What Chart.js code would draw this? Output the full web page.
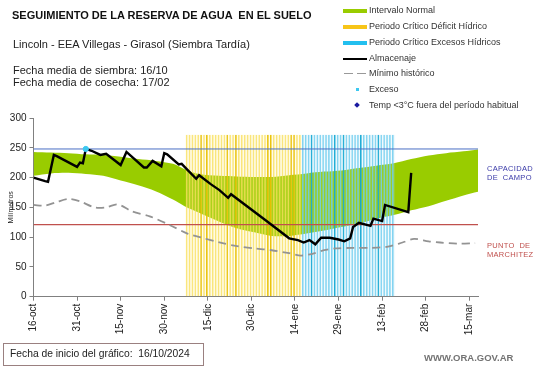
<!DOCTYPE html>
<html>
<head>
<meta charset="utf-8">
<script src="https://cdn.jsdelivr.net/npm/chart.js@4/dist/chart.umd.min.js"></script>
<style>
  html, body { margin: 0; padding: 0; background: #fff; }
  #wrap { position: relative; width: 541px; height: 368px; overflow: hidden; font-family: "Liberation Sans", Arial, sans-serif; color: #111; }
  #wrap canvas { position: absolute; left: 0; top: 0; }
  .t { position: absolute; white-space: pre; }
  .leg { position: absolute; left: 369px; font-size: 9px; line-height: 11px; color: #333; white-space: pre; }
  .sw { position: absolute; }
</style>
</head>
<body>
<div id="wrap">
  <canvas id="chartReserva" width="541" height="368"></canvas>

  <div class="t" style="left:12px; top:9px; font-size:11px; line-height:13px; font-weight:bold;">SEGUIMIENTO DE LA RESERVA DE AGUA  EN EL SUELO</div>
  <div class="t" style="left:13px; top:38px; font-size:11px; line-height:13px; color:#222;">Lincoln - EEA Villegas - Girasol (Siembra Tardía)</div>
  <div class="t" style="left:13px; top:65px; font-size:11px; line-height:11.5px; color:#222;">Fecha media de siembra: 16/10
Fecha media de cosecha: 17/02</div>

  <!-- leyenda -->
  <div class="sw" style="left:343px; top:8.5px; width:24px; height:4.5px; background:#99cc00;"></div>
  <div class="leg" style="top:5px;">Intervalo Normal</div>
  <div class="sw" style="left:343px; top:24.5px; width:24px; height:4.5px; background:#f7c518;"></div>
  <div class="leg" style="top:21px;">Periodo Crítico Déficit Hídrico</div>
  <div class="sw" style="left:343px; top:40.5px; width:24px; height:4.5px; background:#22bfef;"></div>
  <div class="leg" style="top:37px;">Periodo Crítico Excesos Hídricos</div>
  <div class="sw" style="left:343px; top:58px; width:24px; height:2px; background:#000;"></div>
  <div class="leg" style="top:53px;">Almacenaje</div>
  <div class="sw" style="left:344px; top:72.5px; width:9px; height:1.5px; background:#999;"></div>
  <div class="sw" style="left:357px; top:72.5px; width:9px; height:1.5px; background:#999;"></div>
  <div class="leg" style="top:68px;">Mínimo histórico</div>
  <div class="sw" style="left:355.5px; top:87.5px; width:3px; height:3px; background:#3cc8f0;"></div>
  <div class="leg" style="top:84px;">Exceso</div>
  <div class="sw" style="left:355px; top:103px; width:4px; height:4px; background:#1a1aa0; transform:rotate(45deg);"></div>
  <div class="leg" style="top:99.5px;">Temp &lt;3°C fuera del período habitual</div>

  <!-- rotulos a la derecha -->
  <div class="t" style="left:487px; top:165px; font-size:7.5px; line-height:8.8px; color:#3a3aa8; letter-spacing:0.3px;">CAPACIDAD
DE  CAMPO</div>
  <div class="t" style="left:487px; top:242px; font-size:7.5px; line-height:8.8px; color:#c0504d; letter-spacing:0.3px;">PUNTO  DE
MARCHITEZ</div>

  <div class="t" style="left:3px; top:343px; width:199px; height:21px; border:1px solid #9a8080;"></div>
  <div class="t" style="left:10px; top:347px; font-size:10.3px; line-height:13px; color:#222;">Fecha de inicio del gráfico:  16/10/2024</div>
  <div class="t" style="left:424px; top:352px; font-size:9.5px; line-height:12px; font-weight:bold; color:#737373;">WWW.ORA.GOV.AR</div>
</div>

<script>
// dias contados desde el 16-oct (dia 0)
const fechas = ['16-oct', '31-oct', '15-nov', '30-nov', '15-dic', '30-dic', '14-ene', '29-ene', '13-feb', '28-feb', '15-mar'];

// Intervalo normal (banda verde)
const diasBanda = [0, 6, 12, 18, 24, 30, 36, 42, 48, 52, 57, 64, 70, 76, 82, 88, 94, 100, 106, 112, 118, 124, 130, 136, 142, 148, 153];
const bandaSuperior = [243, 242, 241, 239, 238, 235, 231, 228, 223, 214, 206, 203, 202, 201, 201, 204, 207, 210, 212, 216, 220, 224, 231, 237, 241, 244, 247];
const bandaInferior = [203, 207, 208, 206, 203, 195, 187, 177, 163, 152, 141, 126, 115, 108, 102, 102, 106, 111, 117, 123, 131, 137, 145, 152, 161, 170, 176];

// Minimo historico (gris a trazos)
const diasMinimo = [0, 4, 8, 12, 16, 21, 25, 29, 34, 40, 47, 53, 58, 64, 70, 76, 82, 88, 92, 96, 100, 104, 110, 116, 122, 127, 131, 136, 140, 146, 152];
const minimoHistorico = [154, 153, 159, 164, 160, 150, 150, 155, 143, 135, 120, 106, 99, 91, 85, 81, 78, 73, 69, 72, 78, 81, 82, 82, 84, 91, 97, 93, 91, 89, 90];

// Almacenaje (linea negra)
const diasAlmacenaje = [0, 4, 5, 7, 8, 15, 16, 17, 18, 20, 23, 25, 30, 32, 38, 39, 41, 44, 45, 46, 50, 51, 53, 56, 57, 61, 64, 67, 68, 80, 88, 91, 93, 95, 97, 99, 102, 105, 107, 109, 110, 112, 116, 117, 120, 121, 129, 130];
const almacenaje = [200, 194, 193, 238, 236, 218, 225, 224, 248, 245, 238, 240, 221, 243, 217, 217, 228, 219, 241, 239, 222, 223, 213, 198, 204, 189, 179, 166, 172, 128, 98, 95, 91, 95, 88, 99, 99, 96, 93, 98, 117, 124, 119, 131, 127, 154, 142, 208];

// Exceso (punto celeste)
const diasExceso = [18];
const valoresExceso = [248];

// Periodos criticos (franjas)
const diasDeficit = [53, 54, 55, 56, 57, 58, 59, 60, 61, 62, 63, 64, 65, 66, 67, 68, 69, 70, 71, 72, 73, 74, 75, 76, 77, 78, 79, 80, 81, 82, 83, 84, 85, 86, 87, 88, 89, 90, 91, 92];
const diasExcesos = [93, 94, 95, 96, 97, 98, 99, 100, 101, 102, 103, 104, 105, 106, 107, 108, 109, 110, 111, 112, 113, 114, 115, 116, 117, 118, 119, 120, 121, 122, 123, 124];
const diasDeficitFuertes = [58, 60, 67, 70, 81, 82, 89, 90];
const diasExcesosFuertes = [96, 104, 107, 113, 119];
const alturaPeriodo = 272;

const capacidadCampo = 248;
const puntoMarchitez = 121;
const diaFinal = 153;

const pares = (xs, ys) => xs.map((x, i) => ({ x, y: ys[i] }));
const franja = (dias) => dias.map((x) => ({ x, y: alturaPeriodo }));

new Chart(document.getElementById('chartReserva'), {
  type: 'line',
  data: {
    datasets: [
      {
        label: 'Intervalo inferior',
        data: pares(diasBanda, bandaInferior),
        borderWidth: 0, pointRadius: 0, fill: false, tension: 0.3, order: 10,
      },
      {
        label: 'Intervalo Normal',
        data: pares(diasBanda, bandaSuperior),
        borderWidth: 0, pointRadius: 0, fill: '-1', backgroundColor: '#99cc00', tension: 0.3, order: 9,
      },
      {
        type: 'bar',
        label: 'Periodo Crítico Déficit Hídrico',
        data: franja(diasDeficit),
        grouped: false, barPercentage: 1, categoryPercentage: 1,
        backgroundColor: 'rgba(255, 240, 150, 0.18)',
        borderColor: (c) => diasDeficitFuertes.includes(c.raw && c.raw.x) ? 'rgba(232, 192, 0, 0.95)' : 'rgba(248, 222, 90, 0.8)',
        borderWidth: { left: 1, right: 0, top: 0, bottom: 0 },
        borderSkipped: false,
        order: 8,
      },
      {
        type: 'bar',
        label: 'Periodo Crítico Excesos Hídricos',
        data: franja(diasExcesos),
        grouped: false, barPercentage: 1, categoryPercentage: 1,
        backgroundColor: 'rgba(170, 225, 245, 0.16)',
        borderColor: (c) => diasExcesosFuertes.includes(c.raw && c.raw.x) ? 'rgba(20, 168, 210, 0.95)' : 'rgba(110, 205, 238, 0.85)',
        borderWidth: { left: 1, right: 0, top: 0, bottom: 0 },
        borderSkipped: false,
        order: 7,
      },
      {
        label: 'Capacidad de campo',
        data: [{ x: 0, y: capacidadCampo }, { x: diaFinal, y: capacidadCampo }],
        borderColor: '#4a6fc4', borderWidth: 1, pointRadius: 0, order: 6,
      },
      {
        label: 'Punto de marchitez',
        data: [{ x: 0, y: puntoMarchitez }, { x: diaFinal, y: puntoMarchitez }],
        borderColor: '#c0504d', borderWidth: 1.2, pointRadius: 0, order: 5,
      },
      {
        label: 'Mínimo histórico',
        data: pares(diasMinimo, minimoHistorico),
        borderColor: '#939393', borderWidth: 1.8, borderDash: [8, 5], pointRadius: 0, tension: 0.3, order: 4,
      },
      {
        label: 'Almacenaje',
        data: pares(diasAlmacenaje, almacenaje),
        borderColor: '#000000', borderWidth: 2.4, pointRadius: 0, tension: 0, order: 3,
      },
      {
        label: 'Exceso',
        data: pares(diasExceso, valoresExceso),
        showLine: false, pointStyle: 'circle', pointRadius: 2.6,
        pointBackgroundColor: '#3cc8f0', pointBorderColor: '#3cc8f0', order: 1,
      },
    ],
  },
  options: {
    responsive: false,
    animation: false,
    events: [],
    layout: { padding: { top: 118, right: 63, left: 0, bottom: 0 } },
    plugins: { legend: { display: false }, tooltip: { enabled: false } },
    scales: {
      x: {
        type: 'linear',
        min: 0,
        max: diaFinal,
        offset: false,
        grid: { display: true, drawOnChartArea: false, offset: false, tickLength: 4, color: '#808080' },
        border: { color: '#808080' },
        ticks: {
          stepSize: 15,
          includeBounds: false,
          autoSkip: false,
          minRotation: 90,
          maxRotation: 90,
          padding: 3,
          color: '#222',
          font: { family: 'Liberation Sans', size: 10 },
          callback: (v) => fechas[v / 15],
        },
        afterFit: (scale) => { scale.height = 71.3; },
      },
      y: {
        min: 0,
        max: 300,
        grid: { display: true, drawOnChartArea: false, tickLength: 4, color: '#808080' },
        border: { color: '#808080' },
        ticks: { stepSize: 50, padding: 3, color: '#222', font: { family: 'Liberation Sans', size: 10 } },
        title: { display: true, text: 'Milímetros', color: '#222', font: { family: 'Liberation Sans', size: 7 }, padding: { top: 7, bottom: 0 } },
        afterFit: (scale) => { scale.width = 33.5; },
      },
    },
  },
});
</script>
</body>
</html>
